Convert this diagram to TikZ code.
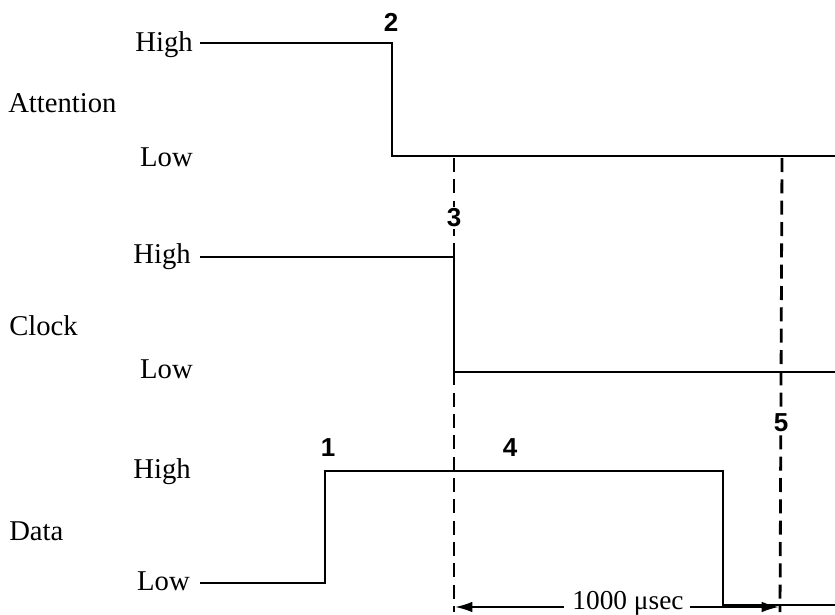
\documentclass[tikz,border=0pt]{standalone}
\usepackage{fontspec}
\setmainfont{Liberation Serif}
\newfontfamily\numfont{Liberation Sans}
\usetikzlibrary{arrows.meta}
\begin{document}
\begin{tikzpicture}[x=0.75pt,y=-0.75pt,
  wave/.style={line width=2pt, line join=miter, line cap=butt},
  guide/.style={line width=2.1pt, dash pattern=on 10.5pt off 5.5pt},
  lvl/.style={font=\fontsize{21.5}{24}\selectfont, anchor=base east, inner sep=0pt},
  sig/.style={font=\fontsize{21.5}{24}\selectfont, anchor=base west, inner sep=0pt},
  num/.style={font=\numfont\bfseries\fontsize{19.5}{21}\selectfont, inner sep=1.5pt, fill=white},
  span/.style={line width=1.6pt, -{Latex[length=13pt,width=8pt]}}]
\useasboundingbox (0,0) rectangle (835,614);

% signal names
\node[sig] (nAtt) at (8,112) {Attention};
\node[sig] (nClk) at (9,335) {Clock};
\node[sig] (nDat) at (9,540) {Data};

% level labels
\node[lvl] (aHi) at (193,51) {High};
\node[lvl] (aLo) at (193,166) {Low};
\node[lvl] (cHi) at (191,263) {High};
\node[lvl] (cLo) at (193,378) {Low};
\node[lvl] (dHi) at (191,478) {High};
\node[lvl] (dLo) at (190,590) {Low};

% waveform corner points
\coordinate (a0) at (200,43);
\coordinate (a1) at (392,43);
\coordinate (a2) at (392,156);
\coordinate (a3) at (835,156);

\coordinate (c0) at (200,257);
\coordinate (c1) at (454,257);
\coordinate (c2) at (454,372);
\coordinate (c3) at (835,372);

\coordinate (d0) at (200,583);
\coordinate (d1) at (325,583);
\coordinate (d2) at (325,471);
\coordinate (d3) at (723,471);
\coordinate (d4) at (723,605);
\coordinate (d5) at (835,605);

% waveforms
\draw[wave] (a0) -- (a1) -- (a2) -- (a3);
\draw[wave] (c0) -- (c1) -- (c2) -- (c3);
\draw[wave] (d0) -- (d1) -- (d2) -- (d3) -- (d4) -- (d5);

% timing guides
\coordinate (g3t) at (454,158);
\coordinate (g3b) at (454,612);
\coordinate (g5t) at (782,158);
\coordinate (g5b) at (780,612);
\draw[guide] (g3t) -- (g3b);
\draw[guide] (g5t) -- (g5b);

% event numbers
\node[num] (e1) at (328,448) {1};
\node[num] (e2) at (391,22) {2};
\node[num] (e3) at (454,218) {3};
\node[num] (e4) at (510,448) {4};
\node[num] (e5) at (781,423) {5};

% interval annotation
\node[font=\fontsize{20.5}{22}\selectfont, anchor=base, inner sep=0pt] (dur) at (628,609) {1000 μsec};
\coordinate (s3) at (455,607);
\coordinate (s5) at (779,607);
\draw[span] ([xshift=-6pt,yshift=1.5pt]dur.base west) -- (s3);
\draw[span] ([xshift=5pt,yshift=1.5pt]dur.base east) -- (s5);
\end{tikzpicture}
\end{document}
